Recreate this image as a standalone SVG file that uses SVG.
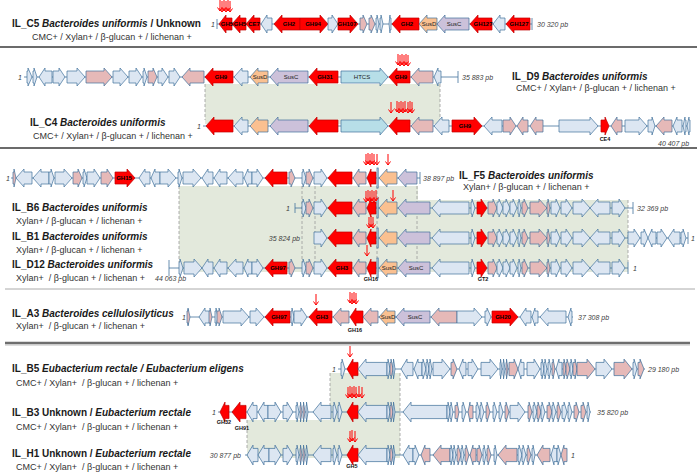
<svg xmlns="http://www.w3.org/2000/svg" xmlns:xlink="http://www.w3.org/1999/xlink" width="700" height="475" viewBox="0 0 700 475">
<style>
.r{fill:#ff0000;stroke:#c00000;stroke-width:0.7}
.b{fill:#dce6f2;stroke:#41719c;stroke-width:0.7}
.p{fill:#e6b9b8;stroke:#41719c;stroke-width:0.7}
.o{fill:#fac090;stroke:#41719c;stroke-width:0.7}
.v{fill:#ccc1da;stroke:#41719c;stroke-width:0.7}
.c{fill:#b7dee8;stroke:#41719c;stroke-width:0.7}
.bb{stroke:#41719c;stroke-width:0.8;fill:none}
.t{font-family:"Liberation Sans",Arial,sans-serif;font-size:10px;font-weight:bold;fill:#1a1a1a}
.s{font-family:"Liberation Sans",Arial,sans-serif;font-size:9px;fill:#333;white-space:pre}
.n{font-family:"Liberation Sans",Arial,sans-serif;font-size:7px;font-style:italic;fill:#404040}
.g{font-family:"Liberation Sans",Arial,sans-serif;font-size:6px;font-weight:bold;fill:#000;text-anchor:middle}
.gs{font-family:"Liberation Sans",Arial,sans-serif;font-size:6px;fill:#222;text-anchor:middle}
.lb{font-family:"Liberation Sans",Arial,sans-serif;font-size:5.5px;font-weight:bold;fill:#111;text-anchor:middle}
.sh{fill:#e3e9dc}
.dl{stroke:#9a9a9a;stroke-width:0.8;stroke-dasharray:3,2;fill:none}
.mut{stroke:#ff0000;fill:none;stroke-width:1}
</style>
<defs>
<path id="m" class="mut" d="M0,-6V5M-2.5,1.5L0,5L2.5,1.5"/>
</defs>

<g id="separators">
<line x1="0" y1="47" x2="697" y2="47" stroke="#3a3a3a" stroke-width="1.6"/>
<line x1="0" y1="148" x2="697" y2="148" stroke="#3a3a3a" stroke-width="1.6"/>
<line x1="5" y1="289" x2="695" y2="289" stroke="#aaaaaa" stroke-width="1"/>
<line x1="5" y1="343" x2="690" y2="343" stroke="#6e6e6e" stroke-width="2.4"/>
<line x1="5" y1="345" x2="690" y2="345" stroke="#bdbdbd" stroke-width="1"/>
</g>

<g id="connectors">
<rect class="sh" x="205" y="84" width="235" height="40"/>
<line class="dl" x1="205" y1="84" x2="205" y2="120"/>
<line class="dl" x1="440" y1="84" x2="440" y2="120"/>
<polygon class="sh" points="179,186 418,186 418,200 628,200 628,272 179,272"/>
<line class="dl" x1="179" y1="186" x2="179" y2="262"/>
<line class="dl" x1="302" y1="186" x2="302" y2="262"/>
<line class="dl" x1="315" y1="186" x2="315" y2="262"/>
<line class="dl" x1="377" y1="186" x2="377" y2="262"/>
<line class="dl" x1="417" y1="186" x2="417" y2="262"/>
<line class="dl" x1="628" y1="200" x2="628" y2="262"/>
<polygon class="sh" points="330,373 400,373 400,458 247,458 247,420 330,420"/>
<line class="dl" x1="330" y1="373" x2="330" y2="410"/>
<line class="dl" x1="400" y1="373" x2="400" y2="455"/>
<line class="dl" x1="247" y1="420" x2="247" y2="450"/>
</g>

<g id="labels">
<text class="t" x="12" y="27">IL_C5 <tspan font-style="italic">Bacteroides uniformis</tspan> / Unknown</text>
<text class="s" x="32" y="40">CMC+ / Xylan+ / β-glucan + / lichenan +</text>
<text class="t" x="512" y="80">IL_D9 <tspan font-style="italic">Bacteroides uniformis</tspan></text>
<text class="s" x="516" y="91">CMC+ / Xylan+ / β-glucan + / lichenan +</text>
<text class="t" x="30" y="126">IL_C4 <tspan font-style="italic">Bacteroides uniformis</tspan></text>
<text class="s" x="33" y="139">CMC+ / Xylan+ / β-glucan + / lichenan +</text>
<text class="t" x="459" y="179">IL_F5 <tspan font-style="italic">Bacteroides uniformis</tspan></text>
<text class="s" x="463" y="190">Xylan+ / β-glucan + / lichenan +</text>
<text class="t" x="12" y="211">IL_B6 <tspan font-style="italic">Bacteroides uniformis</tspan></text>
<text class="s" x="16" y="224">Xylan+ / β-glucan + / lichenan +</text>
<text class="t" x="12" y="240">IL_B1 <tspan font-style="italic">Bacteroides uniformis</tspan></text>
<text class="s" x="16" y="253">Xylan+ / β-glucan + / lichenan +</text>
<text class="t" x="12" y="268">IL_D12 <tspan font-style="italic">Bacteroides uniformis</tspan></text>
<text class="s" x="16" y="281">Xylan+  / β-glucan + / lichenan +</text>
<text class="t" x="12" y="317">IL_A3 <tspan font-style="italic">Bacteroides cellulosilyticus</tspan></text>
<text class="s" x="16" y="329">Xylan+  / β-glucan + / lichenan +</text>
<text class="t" x="12" y="372">IL_B5 <tspan font-style="italic">Eubacterium rectale / Eubacterium eligens</tspan></text>
<text class="s" x="16" y="386">CMC+ / Xylan+  / β-glucan + / lichenan +</text>
<text class="t" x="12" y="416">IL_B3 Unknown / <tspan font-style="italic">Eubacterium rectale</tspan></text>
<text class="s" x="16" y="430">CMC+ / Xylan+  / β-glucan + / lichenan +</text>
<text class="t" x="12" y="457">IL_H1 Unknown / <tspan font-style="italic">Eubacterium rectale</tspan></text>
<text class="s" x="16" y="470">CMC+ / Xylan+  / β-glucan + / lichenan +</text>
</g>

<g id="row-C5" transform="translate(0,24)">
<line class="bb" x1="217" y1="0" x2="532" y2="0"/>
<line class="bb" x1="217" y1="-5" x2="217" y2="5"/>
<line class="bb" x1="532" y1="-6" x2="532" y2="6"/>
<path class="r" d="M232,-6H226V-9L219,0L226,9V6H232Z"/>
<path class="r" d="M246,-6H240V-9L232,0L240,9V6H246Z"/>
<path class="r" d="M260,-6H254V-9L246,0L254,9V6H260Z"/>
<path class="b" d="M272,-6H267V-9L261,0L267,9V6H272Z"/>
<path class="r" d="M300,-6H282V-9L274,0L282,9V6H300Z"/>
<path class="r" d="M300,-6H320V-9L328,0L320,9V6H300Z"/>
<path class="b" d="M328,-6H332V-9L338,0L332,9V6H328Z"/>
<path class="r" d="M338,-6H350V-9L358,0L350,9V6H338Z"/>
<path class="p" d="M360,-6H363V-9L367,0L363,9V6H360Z"/>
<path class="p" d="M369,-6H371V-9L375,0L371,9V6H369Z"/>
<path class="b" d="M376,-6H377V-9L379,0L377,9V6H376Z"/>
<path class="b" d="M380,-6H381V-9L383,0L381,9V6H380Z"/>
<path class="b" d="M391,-6H390V-9L389,0L390,9V6H391Z"/>
<path class="r" d="M419,-6H400V-9L392,0L400,9V6H419Z"/>
<path class="o" d="M437,-6H427V-9L419,0L427,9V6H437Z"/>
<path class="v" d="M469,-6H445V-9L437,0L445,9V6H469Z"/>
<path class="r" d="M492,-6H478V-9L470,0L478,9V6H492Z"/>
<path class="b" d="M505,-6H500V-9L493,0L500,9V6H505Z"/>
<path class="r" d="M530,-6H514V-9L506,0L514,9V6H530Z"/>
<text class="g" x="227" y="2">GH5</text>
<text class="g" x="240" y="2">GH5</text>
<text class="g" x="254" y="2">CE7</text>
<text class="g" x="289" y="2">GH2</text>
<text class="g" x="313" y="2">GH94</text>
<text class="g" x="347" y="2" font-size="5.5">GH107</text>
<text class="g" x="407" y="2">GH2</text>
<text class="gs" x="429" y="2">SusD</text>
<text class="gs" x="454" y="2">SusC</text>
<text class="g" x="483" y="2">GH127</text>
<text class="g" x="519" y="2">GH127</text>
<text class="n" x="211" y="2.5">1</text>
<text class="n" x="537" y="2.5">30 320 pb</text>
<use xlink:href="#m" x="220" y="-18"/><use xlink:href="#m" x="222" y="-17"/><use xlink:href="#m" x="224" y="-18"/><use xlink:href="#m" x="226" y="-17"/><use xlink:href="#m" x="228" y="-18"/><use xlink:href="#m" x="230" y="-17"/>
</g>

<g id="row-D9" transform="translate(0,77)">
<line class="bb" x1="24" y1="0" x2="458" y2="0"/>
<line class="bb" x1="458" y1="-6" x2="458" y2="6"/>
<path class="b" d="M27,-6H28V-9L32,0L28,9V6H27Z"/>
<path class="b" d="M33,-6H34V-9L37,0L34,9V6H33Z"/>
<path class="b" d="M52,-6H45V-9L39,0L45,9V6H52Z"/>
<path class="b" d="M53,-6H59V-9L65,0L59,9V6H53Z"/>
<path class="b" d="M67,-6H77V-9L85,0L77,9V6H67Z"/>
<path class="p" d="M86,-6H104V-9L112,0L104,9V6H86Z"/>
<path class="b" d="M113,-6H120V-9L128,0L120,9V6H113Z"/>
<path class="b" d="M129,-6H136V-9L142,0L136,9V6H129Z"/>
<path class="b" d="M143,-6H144V-9L147,0L144,9V6H143Z"/>
<path class="p" d="M148,-6H153V-9L157,0L153,9V6H148Z"/>
<path class="b" d="M158,-6H162V-9L168,0L162,9V6H158Z"/>
<path class="b" d="M169,-6H174V-9L180,0L174,9V6H169Z"/>
<path class="p" d="M204,-6H190V-9L182,0L190,9V6H204Z"/>
<path class="r" d="M233,-6H213V-9L205,0L213,9V6H233Z"/>
<path class="b" d="M248,-6H242V-9L234,0L242,9V6H248Z"/>
<path class="o" d="M268,-6H258V-9L250,0L258,9V6H268Z"/>
<path class="v" d="M308,-6H278V-9L270,0L278,9V6H308Z"/>
<path class="r" d="M338,-6H317V-9L309,0L317,9V6H338Z"/>
<path class="c" d="M341,-6H380V-9L388,0L380,9V6H341Z"/>
<path class="r" d="M410,-6H397V-9L389,0L397,9V6H410Z"/>
<path class="p" d="M433,-6H419V-9L411,0L419,9V6H433Z"/>
<path class="b" d="M441,-6H438V-9L434,0L438,9V6H441Z"/>
<text class="g" x="221" y="2">GH9</text>
<text class="gs" x="260" y="2">SusD</text>
<text class="gs" x="291" y="2">SusC</text>
<text class="g" x="325" y="2">GH31</text>
<text class="gs" x="362" y="2">HTCS</text>
<text class="g" x="401" y="2">GH9</text>
<text class="n" x="18" y="2.5">1</text>
<text class="n" x="462" y="2.5">35 883 pb</text>
<use xlink:href="#m" x="398" y="-17"/><use xlink:href="#m" x="400" y="-16"/><use xlink:href="#m" x="402" y="-17"/><use xlink:href="#m" x="404" y="-16"/><use xlink:href="#m" x="406" y="-17"/><use xlink:href="#m" x="408" y="-16"/>
</g>

<g id="row-C4" transform="translate(0,126)">
<line class="bb" x1="203" y1="0" x2="690" y2="0"/>
<path class="r" d="M233,-6H214V-9L206,0L214,9V6H233Z"/>
<path class="b" d="M248,-6H242V-9L234,0L242,9V6H248Z"/>
<path class="o" d="M268,-6H258V-9L250,0L258,9V6H268Z"/>
<path class="v" d="M308,-6H278V-9L270,0L278,9V6H308Z"/>
<path class="r" d="M338,-6H317V-9L309,0L317,9V6H338Z"/>
<path class="c" d="M341,-6H380V-9L388,0L380,9V6H341Z"/>
<path class="r" d="M410,-6H397V-9L389,0L397,9V6H410Z"/>
<path class="p" d="M433,-6H419V-9L411,0L419,9V6H433Z"/>
<path class="b" d="M449,-6H442V-9L434,0L442,9V6H449Z"/>
<path class="r" d="M452,-6H474V-9L482,0L474,9V6H452Z"/>
<path class="b" d="M502,-6H492V-9L484,0L492,9V6H502Z"/>
<path class="p" d="M503,-6H510V-9L516,0L510,9V6H503Z"/>
<path class="p" d="M528,-6H523V-9L517,0L523,9V6H528Z"/>
<path class="p" d="M543,-6H536V-9L530,0L536,9V6H543Z"/>
<path class="b" d="M559,-6H590V-9L598,0L590,9V6H559Z"/>
<path class="r" d="M601,-6H605V-9L609,0L605,9V6H601Z"/>
<path class="p" d="M622,-6H617V-9L611,0L617,9V6H622Z"/>
<path class="b" d="M625,-6H639V-9L647,0L639,9V6H625Z"/>
<path class="b" d="M648,-6H652V-9L655,0L652,9V6H648Z"/>
<path class="p" d="M672,-6H664V-9L656,0L664,9V6H672Z"/>
<path class="b" d="M682,-6H677V-9L673,0L677,9V6H682Z"/>
<path class="b" d="M686,-6H685V-9L683,0L685,9V6H686Z"/>
<path class="b" d="M690,-6H689V-9L687,0L689,9V6H690Z"/>
<text class="g" x="465" y="2">GH9</text>
<text class="lb" x="605" y="15">CE4</text>
<text class="n" x="197" y="2.5">1</text>
<text class="n" x="658" y="20">40 407 pb</text>
<use xlink:href="#m" x="391" y="-18"/><use xlink:href="#m" x="397" y="-19"/><use xlink:href="#m" x="399" y="-18"/><use xlink:href="#m" x="401" y="-19"/><use xlink:href="#m" x="403" y="-18"/><use xlink:href="#m" x="405" y="-19"/><use xlink:href="#m" x="408" y="-18"/><use xlink:href="#m" x="410" y="-19"/><use xlink:href="#m" x="412" y="-18"/>
</g>

<g id="row-F5" transform="translate(0,178)">
<line class="bb" x1="11" y1="0" x2="420" y2="0"/>
<line class="bb" x1="420" y1="-6" x2="420" y2="6"/>
<path class="p" d="M13,-6H14V-9L16,0L14,9V6H13Z"/>
<path class="b" d="M32,-6H24V-9L16,0L24,9V6H32Z"/>
<path class="b" d="M49,-6H41V-9L33,0L41,9V6H49Z"/>
<path class="b" d="M49,-6H51V-9L54,0L51,9V6H49Z"/>
<path class="b" d="M55,-6H64V-9L72,0L64,9V6H55Z"/>
<path class="p" d="M73,-6H78V-9L82,0L78,9V6H73Z"/>
<path class="b" d="M83,-6H84V-9L87,0L84,9V6H83Z"/>
<path class="b" d="M87,-6H94V-9L100,0L94,9V6H87Z"/>
<path class="p" d="M101,-6H107V-9L113,0L107,9V6H101Z"/>
<path class="r" d="M115,-6H127V-9L135,0L127,9V6H115Z"/>
<path class="b" d="M150,-6H145V-9L139,0L145,9V6H150Z"/>
<path class="b" d="M160,-6H155V-9L151,0L155,9V6H160Z"/>
<path class="b" d="M160,-6H168V-9L176,0L168,9V6H160Z"/>
<path class="b" d="M178,-6H179V-9L182,0L179,9V6H178Z"/>
<path class="b" d="M183,-6H193V-9L201,0L193,9V6H183Z"/>
<path class="b" d="M213,-6H208V-9L202,0L208,9V6H213Z"/>
<path class="b" d="M227,-6H220V-9L214,0L220,9V6H227Z"/>
<path class="b" d="M243,-6H236V-9L228,0L236,9V6H243Z"/>
<path class="b" d="M252,-6H248V-9L244,0L248,9V6H252Z"/>
<path class="b" d="M252,-6H257V-9L263,0L257,9V6H252Z"/>
<path class="r" d="M287,-6H273V-9L265,0L273,9V6H287Z"/>
<path class="p" d="M289,-6H291V-9L295,0L291,9V6H289Z"/>
<path class="b" d="M302,-6H303V-9L306,0L303,9V6H302Z"/>
<path class="p" d="M306,-6H309V-9L313,0L309,9V6H306Z"/>
<path class="b" d="M314,-6H321V-9L327,0L321,9V6H314Z"/>
<path class="r" d="M352,-6H336V-9L328,0L336,9V6H352Z"/>
<path class="p" d="M366,-6H359V-9L353,0L359,9V6H366Z"/>
<path class="r" d="M376,-6H371V-9L367,0L371,9V6H376Z"/>
<rect class="b" x="377" y="-10" width="1.2" height="20"/>
<path class="o" d="M397,-6H387V-9L379,0L387,9V6H397Z"/>
<path class="v" d="M417,-6H406V-9L398,0L406,9V6H417Z"/>
<text class="g" x="124" y="2">GH15</text>
<text class="n" x="6" y="2.5">1</text>
<text class="n" x="423" y="2.5">38 897 pb</text>
<use xlink:href="#m" x="366" y="-18"/><use xlink:href="#m" x="368" y="-19"/><use xlink:href="#m" x="370" y="-18"/><use xlink:href="#m" x="372" y="-19"/><use xlink:href="#m" x="374" y="-18"/><use xlink:href="#m" x="377" y="-18"/><use xlink:href="#m" x="388" y="-18"/>
</g>

<g id="row-B6" transform="translate(0,208)">
<line class="bb" x1="295" y1="0" x2="633" y2="0"/>
<line class="bb" x1="295" y1="-5" x2="295" y2="5"/>
<line class="bb" x1="633" y1="-6" x2="633" y2="6"/>
<path class="b" d="M302,-6H303V-9L306,0L303,9V6H302Z"/>
<path class="p" d="M306,-6H309V-9L313,0L309,9V6H306Z"/>
<path class="b" d="M314,-6H321V-9L327,0L321,9V6H314Z"/>
<path class="r" d="M352,-6H336V-9L328,0L336,9V6H352Z"/>
<path class="p" d="M366,-6H359V-9L353,0L359,9V6H366Z"/>
<path class="r" d="M376,-6H371V-9L367,0L371,9V6H376Z"/>
<rect class="b" x="377" y="-10" width="1.2" height="20"/>
<path class="o" d="M397,-6H387V-9L379,0L387,9V6H397Z"/>
<path class="v" d="M430,-6H406V-9L398,0L406,9V6H430Z"/>
<path class="b" d="M469,-6H440V-9L432,0L440,9V6H469Z"/>
<path class="b" d="M471,-6H472V-9L475,0L472,9V6H471Z"/>
<path class="r" d="M477,-6H481V-9L487,0L481,9V6H477Z"/>
<path class="p" d="M488,-6H493V-9L497,0L493,9V6H488Z"/>
<path class="b" d="M497,-6H499V-9L503,0L499,9V6H497Z"/>
<path class="b" d="M503,-6H506V-9L510,0L506,9V6H503Z"/>
<path class="b" d="M510,-6H513V-9L517,0L513,9V6H510Z"/>
<path class="b" d="M518,-6H519V-9L521,0L519,9V6H518Z"/>
<path class="p" d="M522,-6H524V-9L528,0L524,9V6H522Z"/>
<path class="p" d="M530,-6H539V-9L547,0L539,9V6H530Z"/>
<path class="p" d="M547,-6H548V-9L550,0L548,9V6H547Z"/>
<path class="b" d="M551,-6H556V-9L560,0L556,9V6H551Z"/>
<path class="b" d="M561,-6H566V-9L572,0L566,9V6H561Z"/>
<path class="b" d="M573,-6H582V-9L590,0L582,9V6H573Z"/>
<path class="b" d="M610,-6H598V-9L590,0L598,9V6H610Z"/>
<path class="b" d="M612,-6H619V-9L625,0L619,9V6H612Z"/>
<text class="n" x="286" y="2.5">1</text>
<text class="n" x="637" y="2.5">32 369 pb</text>
<use xlink:href="#m" x="366" y="-11"/><use xlink:href="#m" x="368" y="-12"/><use xlink:href="#m" x="370" y="-11"/><use xlink:href="#m" x="372" y="-12"/><use xlink:href="#m" x="374" y="-11"/><use xlink:href="#m" x="376" y="-12"/><use xlink:href="#m" x="393" y="-12"/>
</g>

<g id="row-B1" transform="translate(0,238)">
<line class="bb" x1="314" y1="0" x2="688" y2="0"/>
<line class="bb" x1="688" y1="-6" x2="688" y2="6"/>
<path class="b" d="M314,-6H321V-9L327,0L321,9V6H314Z"/>
<path class="r" d="M352,-6H336V-9L328,0L336,9V6H352Z"/>
<path class="p" d="M366,-6H359V-9L353,0L359,9V6H366Z"/>
<path class="r" d="M376,-6H371V-9L367,0L371,9V6H376Z"/>
<rect class="b" x="377" y="-10" width="1.2" height="20"/>
<path class="o" d="M397,-6H387V-9L379,0L387,9V6H397Z"/>
<path class="v" d="M430,-6H406V-9L398,0L406,9V6H430Z"/>
<path class="b" d="M469,-6H440V-9L432,0L440,9V6H469Z"/>
<path class="b" d="M471,-6H472V-9L475,0L472,9V6H471Z"/>
<path class="r" d="M477,-6H481V-9L487,0L481,9V6H477Z"/>
<path class="p" d="M488,-6H493V-9L497,0L493,9V6H488Z"/>
<path class="b" d="M497,-6H499V-9L503,0L499,9V6H497Z"/>
<path class="b" d="M503,-6H506V-9L510,0L506,9V6H503Z"/>
<path class="b" d="M510,-6H513V-9L517,0L513,9V6H510Z"/>
<path class="b" d="M518,-6H519V-9L521,0L519,9V6H518Z"/>
<path class="p" d="M522,-6H524V-9L528,0L524,9V6H522Z"/>
<path class="p" d="M530,-6H539V-9L547,0L539,9V6H530Z"/>
<path class="p" d="M547,-6H548V-9L550,0L548,9V6H547Z"/>
<path class="b" d="M551,-6H556V-9L560,0L556,9V6H551Z"/>
<path class="b" d="M561,-6H566V-9L572,0L566,9V6H561Z"/>
<path class="b" d="M573,-6H582V-9L590,0L582,9V6H573Z"/>
<path class="b" d="M610,-6H598V-9L590,0L598,9V6H610Z"/>
<path class="b" d="M612,-6H619V-9L625,0L619,9V6H612Z"/>
<path class="b" d="M628,-6H634V-9L640,0L634,9V6H628Z"/>
<path class="b" d="M641,-6H644V-9L648,0L644,9V6H641Z"/>
<path class="b" d="M656,-6H652V-9L648,0L652,9V6H656Z"/>
<path class="b" d="M657,-6H661V-9L667,0L661,9V6H657Z"/>
<path class="b" d="M680,-6H674V-9L668,0L674,9V6H680Z"/>
<path class="b" d="M681,-6H683V-9L686,0L683,9V6H681Z"/>
<text class="n" x="300" y="2.5" text-anchor="end">35 824 pb</text>
<text class="n" x="691" y="2.5">1</text>
<use xlink:href="#m" x="369" y="-15"/><use xlink:href="#m" x="371" y="-16"/><use xlink:href="#m" x="373" y="-15"/>
</g>

<g id="row-D12" transform="translate(0,268)">
<line class="bb" x1="169" y1="0" x2="628" y2="0"/>
<line class="bb" x1="169" y1="-8" x2="169" y2="8"/>
<line class="bb" x1="628" y1="-6" x2="628" y2="6"/>
<path class="b" d="M179,-6H180V-9L183,0L180,9V6H179Z"/>
<path class="b" d="M184,-6H194V-9L202,0L194,9V6H184Z"/>
<path class="b" d="M213,-6H208V-9L202,0L208,9V6H213Z"/>
<path class="b" d="M227,-6H220V-9L214,0L220,9V6H227Z"/>
<path class="b" d="M243,-6H236V-9L228,0L236,9V6H243Z"/>
<path class="b" d="M252,-6H248V-9L244,0L248,9V6H252Z"/>
<path class="b" d="M252,-6H257V-9L263,0L257,9V6H252Z"/>
<path class="r" d="M287,-6H273V-9L265,0L273,9V6H287Z"/>
<path class="p" d="M289,-6H291V-9L295,0L291,9V6H289Z"/>
<path class="b" d="M302,-6H303V-9L306,0L303,9V6H302Z"/>
<path class="p" d="M306,-6H309V-9L313,0L309,9V6H306Z"/>
<path class="b" d="M314,-6H321V-9L327,0L321,9V6H314Z"/>
<path class="r" d="M352,-6H336V-9L328,0L336,9V6H352Z"/>
<path class="p" d="M366,-6H359V-9L353,0L359,9V6H366Z"/>
<path class="r" d="M376,-6H371V-9L367,0L371,9V6H376Z"/>
<rect class="b" x="377" y="-10" width="1.2" height="20"/>
<path class="o" d="M397,-6H387V-9L379,0L387,9V6H397Z"/>
<path class="v" d="M430,-6H406V-9L398,0L406,9V6H430Z"/>
<path class="b" d="M469,-6H440V-9L432,0L440,9V6H469Z"/>
<path class="b" d="M471,-6H472V-9L475,0L472,9V6H471Z"/>
<path class="r" d="M477,-6H481V-9L487,0L481,9V6H477Z"/>
<path class="p" d="M488,-6H493V-9L497,0L493,9V6H488Z"/>
<path class="b" d="M497,-6H499V-9L503,0L499,9V6H497Z"/>
<path class="b" d="M503,-6H506V-9L510,0L506,9V6H503Z"/>
<path class="b" d="M510,-6H513V-9L517,0L513,9V6H510Z"/>
<path class="b" d="M518,-6H519V-9L521,0L519,9V6H518Z"/>
<path class="p" d="M522,-6H524V-9L528,0L524,9V6H522Z"/>
<path class="p" d="M530,-6H539V-9L547,0L539,9V6H530Z"/>
<path class="p" d="M547,-6H548V-9L550,0L548,9V6H547Z"/>
<path class="b" d="M551,-6H556V-9L560,0L556,9V6H551Z"/>
<path class="b" d="M561,-6H566V-9L572,0L566,9V6H561Z"/>
<path class="b" d="M573,-6H582V-9L590,0L582,9V6H573Z"/>
<path class="b" d="M610,-6H598V-9L590,0L598,9V6H610Z"/>
<path class="b" d="M612,-6H619V-9L625,0L619,9V6H612Z"/>
<text class="g" x="278" y="2">GH97</text>
<text class="g" x="342" y="2">GH3</text>
<text class="gs" x="389" y="2">SusD</text>
<text class="gs" x="416" y="2">SusC</text>
<text class="lb" x="371" y="13">GH16</text>
<text class="lb" x="483" y="13">GT2</text>
<text class="n" x="155" y="13">44 063 pb</text>
<text class="n" x="633" y="2.5">1</text>
<use xlink:href="#m" x="367" y="-17"/>
</g>

<g id="row-A3" transform="translate(0,317)">
<line class="bb" x1="187" y1="0" x2="573" y2="0"/>
<line class="bb" x1="188" y1="-8" x2="188" y2="8"/>
<path class="p" d="M187,-6H188V-9L190,0L188,9V6H187Z"/>
<path class="b" d="M210,-6H205V-9L199,0L205,9V6H210Z"/>
<path class="p" d="M209,-6H210V-9L212,0L210,9V6H209Z"/>
<path class="b" d="M215,-6H216V-9L218,0L216,9V6H215Z"/>
<path class="p" d="M217,-6H219V-9L222,0L219,9V6H217Z"/>
<path class="b" d="M223,-6H241V-9L249,0L241,9V6H223Z"/>
<path class="b" d="M250,-6H256V-9L264,0L256,9V6H250Z"/>
<path class="r" d="M290,-6H273V-9L265,0L273,9V6H290Z"/>
<path class="b" d="M291,-6H292V-9L294,0L292,9V6H291Z"/>
<path class="b" d="M294,-6H301V-9L307,0L301,9V6H294Z"/>
<path class="r" d="M332,-6H317V-9L309,0L317,9V6H332Z"/>
<path class="p" d="M349,-6H341V-9L333,0L341,9V6H349Z"/>
<path class="r" d="M363,-6H356V-9L350,0L356,9V6H363Z"/>
<path class="p" d="M378,-6H371V-9L363,0L371,9V6H378Z"/>
<path class="o" d="M395,-6H387V-9L379,0L387,9V6H395Z"/>
<path class="v" d="M430,-6H404V-9L396,0L404,9V6H430Z"/>
<path class="p" d="M457,-6H439V-9L431,0L439,9V6H457Z"/>
<path class="b" d="M457,-6H474V-9L482,0L474,9V6H457Z"/>
<path class="b" d="M485,-6H487V-9L491,0L487,9V6H485Z"/>
<path class="r" d="M492,-6H510V-9L518,0L510,9V6H492Z"/>
<path class="b" d="M531,-6H526V-9L520,0L526,9V6H531Z"/>
<path class="b" d="M538,-6H535V-9L532,0L535,9V6H538Z"/>
<path class="b" d="M566,-6H548V-9L540,0L548,9V6H566Z"/>
<path class="b" d="M572,-6H571V-9L568,0L571,9V6H572Z"/>
<text class="g" x="279" y="2">GH97</text>
<text class="g" x="322" y="2">GH3</text>
<text class="gs" x="388" y="2">SusD</text>
<text class="gs" x="415" y="2">SusC</text>
<text class="g" x="503" y="2">GH20</text>
<text class="lb" x="355" y="15">GH16</text>
<text class="n" x="182" y="2.5">1</text>
<text class="n" x="578" y="2.5">37 308 pb</text>
<use xlink:href="#m" x="316" y="-17"/><use xlink:href="#m" x="350" y="-19"/><use xlink:href="#m" x="352" y="-18"/><use xlink:href="#m" x="354" y="-19"/><use xlink:href="#m" x="356" y="-18"/>
</g>

<g id="row-B5" transform="translate(0,369)">
<line class="bb" x1="338" y1="0" x2="645" y2="0"/>
<g transform="scale(1,1.1)">
<path class="b" d="M341,-6H342V-9L345,0L342,9V6H341Z"/>
<path class="r" d="M358,-6H353V-9L347,0L353,9V6H358Z"/>
<path class="b" d="M387,-6H366V-9L358,0L366,9V6H387Z"/>
<path class="b" d="M387,-6H388V-9L390,0L388,9V6H387Z"/>
<path class="p" d="M390,-6H391V-9L393,0L391,9V6H390Z"/>
<path class="b" d="M393,-6H393.5V-9L395,0L393.5,9V6H393Z"/>
<path class="b" d="M413,-6H407V-9L401,0L407,9V6H413Z"/>
<path class="b" d="M422,-6H418V-9L414,0L418,9V6H422Z"/>
<path class="b" d="M422,-6H423V-9L426,0L423,9V6H422Z"/>
<path class="b" d="M426,-6H427V-9L429,0L427,9V6H426Z"/>
<path class="b" d="M429,-6H430V-9L432,0L430,9V6H429Z"/>
<path class="b" d="M433,-6H442V-9L450,0L442,9V6H433Z"/>
<path class="p" d="M451,-6H453V-9L457,0L453,9V6H451Z"/>
<path class="b" d="M466,-6H463V-9L459,0L463,9V6H466Z"/>
<path class="b" d="M468,-6H472V-9L478,0L472,9V6H468Z"/>
<path class="b" d="M481,-6H490V-9L498,0L490,9V6H481Z"/>
<path class="b" d="M500,-6H500.5V-9L502,0L500.5,9V6H500Z"/>
<path class="b" d="M503,-6H503.5V-9L505,0L503.5,9V6H503Z"/>
<path class="p" d="M506,-6H506.5V-9L508,0L506.5,9V6H506Z"/>
<path class="p" d="M509,-6H514V-9L518,0L514,9V6H509Z"/>
<path class="b" d="M524,-6H521V-9L518,0L521,9V6H524Z"/>
<path class="b" d="M527,-6H534V-9L540,0L534,9V6H527Z"/>
<path class="b" d="M541,-6H542V-9L544,0L542,9V6H541Z"/>
<path class="b" d="M544,-6H545V-9L547,0L545,9V6H544Z"/>
<path class="b" d="M548,-6H549V-9L551,0L549,9V6H548Z"/>
<path class="p" d="M552,-6H553V-9L555,0L553,9V6H552Z"/>
<path class="b" d="M562,-6H559V-9L556,0L559,9V6H562Z"/>
<path class="p" d="M563,-6H564V-9L566,0L564,9V6H563Z"/>
<path class="p" d="M566,-6H567V-9L570,0L567,9V6H566Z"/>
<path class="b" d="M570,-6H571V-9L573,0L571,9V6H570Z"/>
<path class="p" d="M573,-6H575V-9L577,0L575,9V6H573Z"/>
<path class="p" d="M577,-6H587V-9L595,0L587,9V6H577Z"/>
<path class="b" d="M596,-6H604V-9L612,0L604,9V6H596Z"/>
<path class="p" d="M614,-6H624V-9L632,0L624,9V6H614Z"/>
<path class="b" d="M633,-6H634V-9L637,0L634,9V6H633Z"/>
<path class="p" d="M638,-6H640V-9L644,0L640,9V6H638Z"/>
</g>
<text class="n" x="332" y="2.5">1</text>
<text class="n" x="648" y="2.5">29 180 pb</text>
<use xlink:href="#m" x="350" y="-17"/>
</g>

<g id="row-B3" transform="translate(0,412)">
<line class="bb" x1="218" y1="0" x2="591" y2="0"/>
<g transform="scale(1,1.1)">
<path class="r" d="M229,-6H225V-9L220,0L225,9V6H229Z"/>
<path class="r" d="M246,-6H240V-9L232,0L240,9V6H246Z"/>
<path class="b" d="M257,-6H253V-9L247,0L253,9V6H257Z"/>
<path class="b" d="M268,-6H264V-9L258,0L264,9V6H268Z"/>
<path class="b" d="M268,-6H275V-9L281,0L275,9V6H268Z"/>
<path class="b" d="M283,-6H287V-9L293,0L287,9V6H283Z"/>
<path class="b" d="M296,-6H297V-9L299,0L297,9V6H296Z"/>
<path class="p" d="M300,-6H300.5V-9L302,0L300.5,9V6H300Z"/>
<path class="p" d="M303,-6H303.5V-9L305,0L303.5,9V6H303Z"/>
<path class="b" d="M306,-6H306.5V-9L308,0L306.5,9V6H306Z"/>
<path class="b" d="M331,-6H321V-9L313,0L321,9V6H331Z"/>
<path class="b" d="M333,-6H334V-9L337,0L334,9V6H333Z"/>
<path class="b" d="M338,-6H339V-9L342,0L339,9V6H338Z"/>
<path class="r" d="M358,-6H353V-9L347,0L353,9V6H358Z"/>
<path class="b" d="M387,-6H366V-9L358,0L366,9V6H387Z"/>
<path class="b" d="M387,-6H388V-9L390,0L388,9V6H387Z"/>
<path class="p" d="M390,-6H391V-9L393,0L391,9V6H390Z"/>
<path class="b" d="M393,-6H393.5V-9L395,0L393.5,9V6H393Z"/>
<path class="b" d="M447,-6H411V-9L403,0L411,9V6H447Z"/>
<path class="b" d="M447,-6H448V-9L450,0L448,9V6H447Z"/>
<path class="b" d="M450,-6H451V-9L453,0L451,9V6H450Z"/>
<path class="p" d="M455,-6H457V-9L459,0L457,9V6H455Z"/>
<path class="b" d="M462,-6H463V-9L466,0L463,9V6H462Z"/>
<path class="p" d="M473,-6H470V-9L468,0L470,9V6H473Z"/>
<path class="b" d="M476,-6H477V-9L480,0L477,9V6H476Z"/>
<path class="b" d="M480,-6H481V-9L484,0L481,9V6H480Z"/>
<path class="p" d="M486,-6H487V-9L490,0L487,9V6H486Z"/>
<path class="b" d="M493,-6H494V-9L497,0L494,9V6H493Z"/>
<path class="b" d="M499,-6H500V-9L503,0L500,9V6H499Z"/>
<path class="p" d="M505,-6H506V-9L509,0L506,9V6H505Z"/>
<path class="b" d="M510,-6H518V-9L525,0L518,9V6H510Z"/>
<path class="p" d="M528,-6H529V-9L532,0L529,9V6H528Z"/>
<path class="b" d="M533,-6H534V-9L537,0L534,9V6H533Z"/>
<path class="p" d="M537,-6H538V-9L541,0L538,9V6H537Z"/>
<path class="b" d="M541,-6H542V-9L545,0L542,9V6H541Z"/>
<path class="p" d="M547,-6H549V-9L552,0L549,9V6H547Z"/>
<path class="b" d="M552,-6H553V-9L556,0L553,9V6H552Z"/>
<path class="p" d="M557,-6H558V-9L561,0L558,9V6H557Z"/>
<path class="b" d="M562,-6H564V-9L567,0L564,9V6H562Z"/>
<path class="b" d="M568,-6H569V-9L572,0L569,9V6H568Z"/>
<path class="p" d="M574,-6H576V-9L579,0L576,9V6H574Z"/>
<path class="p" d="M581,-6H583V-9L586,0L583,9V6H581Z"/>
<path class="b" d="M587,-6H588V-9L590,0L588,9V6H587Z"/>
</g>
<text class="lb" x="224" y="12">GH32</text>
<text class="lb" x="242" y="18">GH91</text>
<text class="n" x="212" y="2.5">1</text>
<text class="n" x="597" y="2.5">35 820 pb</text>
<use xlink:href="#m" x="348" y="-19"/><use xlink:href="#m" x="350" y="-20"/><use xlink:href="#m" x="352" y="-19"/><use xlink:href="#m" x="354" y="-20"/><use xlink:href="#m" x="356" y="-19"/><use xlink:href="#m" x="359" y="-20"/><use xlink:href="#m" x="362" y="-19"/>
</g>

<g id="row-H1" transform="translate(0,455)">
<line class="bb" x1="245" y1="0" x2="567" y2="0"/>
<g transform="scale(1,1.1)">
<path class="b" d="M258,-6H253V-9L247,0L253,9V6H258Z"/>
<path class="b" d="M269,-6H264V-9L258,0L264,9V6H269Z"/>
<path class="b" d="M269,-6H275V-9L281,0L275,9V6H269Z"/>
<path class="b" d="M283,-6H287V-9L293,0L287,9V6H283Z"/>
<path class="b" d="M296,-6H297V-9L299,0L297,9V6H296Z"/>
<path class="p" d="M300,-6H300.5V-9L302,0L300.5,9V6H300Z"/>
<path class="p" d="M303,-6H303.5V-9L305,0L303.5,9V6H303Z"/>
<path class="b" d="M306,-6H306.5V-9L308,0L306.5,9V6H306Z"/>
<path class="b" d="M331,-6H321V-9L313,0L321,9V6H331Z"/>
<path class="b" d="M333,-6H334V-9L337,0L334,9V6H333Z"/>
<path class="b" d="M338,-6H339V-9L342,0L339,9V6H338Z"/>
<path class="r" d="M358,-6H353V-9L347,0L353,9V6H358Z"/>
<path class="b" d="M387,-6H366V-9L358,0L366,9V6H387Z"/>
<path class="b" d="M387,-6H388V-9L390,0L388,9V6H387Z"/>
<path class="p" d="M390,-6H391V-9L393,0L391,9V6H390Z"/>
<path class="b" d="M393,-6H393.5V-9L395,0L393.5,9V6H393Z"/>
<path class="b" d="M413,-6H409V-9L403,0L409,9V6H413Z"/>
<path class="b" d="M413,-6H415V-9L419,0L415,9V6H413Z"/>
<path class="p" d="M430,-6H425V-9L421,0L425,9V6H430Z"/>
<path class="p" d="M450,-6H441V-9L433,0L441,9V6H450Z"/>
<path class="b" d="M450,-6H451V-9L453,0L451,9V6H450Z"/>
<path class="b" d="M453,-6H454V-9L456,0L454,9V6H453Z"/>
<path class="p" d="M457,-6H458V-9L461,0L458,9V6H457Z"/>
<path class="b" d="M461,-6H462V-9L464,0L462,9V6H461Z"/>
<path class="p" d="M465,-6H466V-9L469,0L466,9V6H465Z"/>
<path class="p" d="M476,-6H473V-9L470,0L473,9V6H476Z"/>
<path class="p" d="M477,-6H479V-9L482,0L479,9V6H477Z"/>
<path class="b" d="M483,-6H484V-9L486,0L484,9V6H483Z"/>
<path class="p" d="M487,-6H488V-9L491,0L488,9V6H487Z"/>
<path class="b" d="M494,-6H495V-9L497,0L495,9V6H494Z"/>
<path class="p" d="M517,-6H506V-9L498,0L506,9V6H517Z"/>
<path class="b" d="M518,-6H519V-9L522,0L519,9V6H518Z"/>
<path class="b" d="M522,-6H523V-9L526,0L523,9V6H522Z"/>
<path class="p" d="M527,-6H528V-9L531,0L528,9V6H527Z"/>
<path class="b" d="M532,-6H533V-9L535,0L533,9V6H532Z"/>
<path class="p" d="M550,-6H543V-9L537,0L543,9V6H550Z"/>
<path class="b" d="M557,-6H554V-9L551,0L554,9V6H557Z"/>
<path class="b" d="M557,-6H558V-9L561,0L558,9V6H557Z"/>
<path class="p" d="M567,-6H564V-9L561,0L564,9V6H567Z"/>
</g>
<text class="lb" x="352" y="13">GH5</text>
<text class="n" x="241" y="2.5" text-anchor="end">30 877 pb</text>
<text class="n" x="571" y="2.5">1</text>
<use xlink:href="#m" x="350" y="-18"/><use xlink:href="#m" x="352" y="-19"/><use xlink:href="#m" x="355" y="-18"/>
</g>
</svg>
